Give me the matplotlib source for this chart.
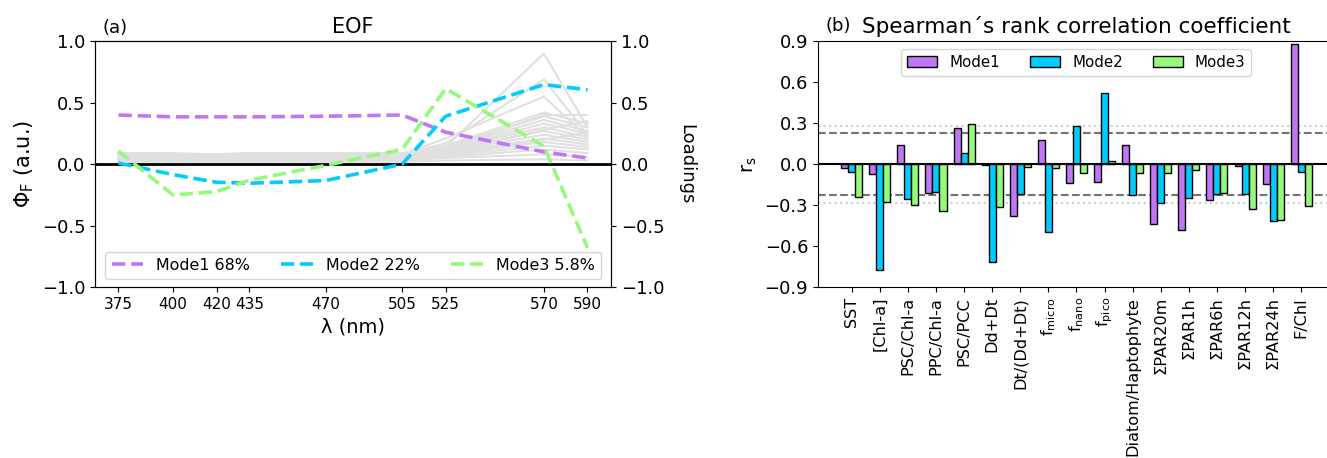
import matplotlib
matplotlib.use("Agg")
import matplotlib.pyplot as plt
import numpy as np

# ---- panel (a): EOF modes ---------------------------------------------------
wavelengths = [375, 400, 420, 435, 470, 505, 525, 570, 590]

mode1 = [0.40, 0.385, 0.385, 0.385, 0.39, 0.40, 0.26, 0.10, 0.05]
mode2 = [0.01, -0.085, -0.147, -0.155, -0.133, 0.00, 0.39, 0.647, 0.606]
mode3 = [0.106, -0.25, -0.223, -0.13, -0.01, 0.12, 0.614, 0.147, -0.68]
mode_labels = ["Mode1 68%", "Mode2 22%", "Mode3 5.8%"]

# normalised spectra drawn in grey behind the modes
spectra = [
    [0.02, 0.02, 0.02, 0.02, 0.02, 0.02, 0.03, 0.04, 0.03],
    [0.03, 0.03, 0.03, 0.03, 0.03, 0.03, 0.05, 0.08, 0.06],
    [0.04, 0.03, 0.03, 0.04, 0.04, 0.04, 0.06, 0.12, 0.09],
    [0.05, 0.04, 0.04, 0.04, 0.04, 0.05, 0.07, 0.15, 0.12],
    [0.05, 0.05, 0.05, 0.05, 0.05, 0.05, 0.08, 0.18, 0.14],
    [0.06, 0.05, 0.05, 0.05, 0.05, 0.06, 0.09, 0.21, 0.16],
    [0.06, 0.06, 0.06, 0.06, 0.06, 0.06, 0.10, 0.24, 0.18],
    [0.07, 0.06, 0.06, 0.06, 0.06, 0.07, 0.11, 0.27, 0.20],
    [0.07, 0.07, 0.07, 0.07, 0.07, 0.07, 0.12, 0.30, 0.22],
    [0.08, 0.07, 0.07, 0.08, 0.08, 0.08, 0.12, 0.33, 0.25],
    [0.08, 0.08, 0.08, 0.08, 0.08, 0.08, 0.13, 0.36, 0.27],
    [0.09, 0.08, 0.08, 0.09, 0.08, 0.08, 0.14, 0.39, 0.30],
    [0.09, 0.09, 0.08, 0.09, 0.09, 0.09, 0.15, 0.42, 0.33],
    [0.08, 0.07, 0.07, 0.08, 0.07, 0.08, 0.13, 0.40, 0.40],
    [0.07, 0.07, 0.07, 0.07, 0.07, 0.08, 0.21, 0.55, 0.22],
    [0.08, 0.08, 0.08, 0.08, 0.08, 0.08, 0.17, 0.69, 0.24],
    [0.08, 0.08, 0.08, 0.08, 0.08, 0.08, 0.14, 0.90, 0.30],
    [0.06, 0.06, 0.06, 0.06, 0.06, 0.07, 0.10, 0.28, 0.35],
    [0.04, 0.04, 0.04, 0.04, 0.04, 0.05, 0.07, 0.20, 0.26],
]

# ---- panel (b): Spearman correlations ---------------------------------------
variables = [
    "SST", "[Chl-a]", "PSC/Chl-a", "PPC/Chl-a", "PSC/PCC", "Dd+Dt",
    "Dt/(Dd+Dt)", r"f$_{\mathrm{micro}}$", r"f$_{\mathrm{nano}}$",
    r"f$_{\mathrm{pico}}$", "Diatom/Haptophyte", "ΣPAR20m", "ΣPAR1h",
    "ΣPAR6h", "ΣPAR12h", "ΣPAR24h", "F/Chl",
]
rs_mode1 = [-0.03, -0.07, 0.144, -0.21, 0.264, -0.005, -0.378, 0.18, -0.139,
            -0.132, 0.144, -0.44, -0.479, -0.264, -0.015, -0.144, 0.877]
rs_mode2 = [-0.059, -0.774, -0.254, -0.203, 0.081, -0.718, -0.22, -0.493, 0.283,
            0.52, -0.227, -0.281, -0.249, -0.217, -0.22, -0.415, -0.059]
rs_mode3 = [-0.242, -0.276, -0.298, -0.344, 0.293, -0.315, -0.017, -0.027, -0.063,
            0.022, -0.068, -0.068, -0.039, -0.208, -0.325, -0.408, -0.308]
bar_labels = ["Mode1", "Mode2", "Mode3"]
sig_dashed = 0.225
sig_dotted = 0.281

colors = ["#bf77f6", "#02ccfe", "#96f97b"]

fig = plt.figure(figsize=(13.27, 4.58), dpi=100)

# --- (a) ---
ax = fig.add_axes([0.0716, 0.373, 0.3888, 0.537])
for s in spectra:
    ax.plot(wavelengths, s, color="0.88", lw=1.5, zorder=1)
for vals, c, lab in zip([mode1, mode2, mode3], colors, mode_labels):
    ax.plot(wavelengths, vals, "--", color=c, lw=2.6, label=lab, zorder=3)
ax.axhline(0, color="k", lw=2, zorder=2)
ax.set_ylim(-1, 1)
ax.set_yticks([-1.0, -0.5, 0.0, 0.5, 1.0])
ax.set_xticks(wavelengths)
ax.tick_params(axis="x", labelsize=11)
ax.tick_params(axis="y", labelsize=13)
ax.set_xlabel("λ (nm)", fontsize=14)
ax.set_ylabel(r"$\Phi_\mathrm{F}$ (a.u.)", fontsize=15)
ax.set_title("EOF", fontsize=15)
ax.set_title("(a)", loc="left", fontsize=13, x=0.015)
ax.legend(loc="lower center", ncol=3, fontsize=11.4, columnspacing=2.0)

ax2 = ax.twinx()
ax2.set_ylim(-1, 1)
ax2.set_yticks([-1.0, -0.5, 0.0, 0.5, 1.0])
ax2.tick_params(axis="y", labelsize=13)
ax2.set_ylabel("Loadings", fontsize=13, rotation=270, labelpad=22)

# --- (b) ---
bx = fig.add_axes([0.6164, 0.373, 0.3896, 0.537])
x = np.arange(len(variables))
w = 0.25
for i, (vals, c, lab) in enumerate(zip([rs_mode1, rs_mode2, rs_mode3], colors, bar_labels)):
    bx.bar(x + (i - 1) * w, vals, width=w, color=c, edgecolor="k", lw=1,
           label=lab, zorder=3)
bx.axhline(0, color="k", lw=1.5, zorder=4)
for sgn in (1, -1):
    bx.axhline(sgn * sig_dashed, color="0.45", ls="--", lw=1.5, zorder=2)
    bx.axhline(sgn * sig_dotted, color="0.8", ls=":", lw=1.5, zorder=2)
bx.set_xlim(-1.2, 17.2)
bx.set_ylim(-0.9, 0.9)
bx.set_yticks([-0.9, -0.6, -0.3, 0.0, 0.3, 0.6, 0.9])
bx.set_xticks(x)
bx.set_xticklabels(variables, rotation=90, fontsize=11.6)
bx.tick_params(axis="y", labelsize=13)
bx.set_ylabel(r"r$_\mathrm{s}$", fontsize=14)
bx.set_title("Spearman\u00b4s rank correlation coefficient", fontsize=15.5)
bx.text(0.014, 1.025, "(b)", transform=bx.transAxes, fontsize=13, va="bottom")
bx.legend(loc="upper center", ncol=3, fontsize=10.8)

fig.savefig("out.png", dpi=100)
